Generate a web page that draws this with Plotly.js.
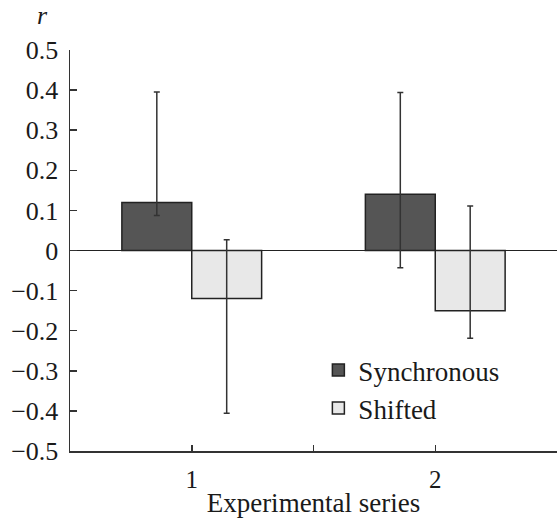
<!DOCTYPE html>
<html>
<head>
<meta charset="utf-8">
<script src="https://cdn.plot.ly/plotly-3.0.1.min.js"></script>
<style>html,body{margin:0;padding:0;background:#fff;}#chart{width:557px;height:518px;}</style>
</head>
<body>
<div id="chart"></div>
<script>
// Data
const categories = ["1", "2"];
const categoryPositions = [1, 2];
const seriesNames = ["Synchronous", "Shifted"];
const synchronousValues = [0.12, 0.14];
const synchronousErrPlus = [0.275, 0.254];
const synchronousErrMinus = [0.033, 0.183];
const shiftedValues = [-0.12, -0.15];
const shiftedErrPlus = [0.147, 0.261];
const shiftedErrMinus = [0.286, 0.069];
const yTickValues = [-0.5, -0.4, -0.3, -0.2, -0.1, 0, 0.1, 0.2, 0.3, 0.4, 0.5];
const yTickLabels = ["\u22120.5", "\u22120.4", "\u22120.3", "\u22120.2", "\u22120.1", "0", "0.1", "0.2", "0.3", "0.4", "0.5"];
const xTickValues = [1, 1.5, 2];
const xTickLabels = ["1", "", "2"];

const font = "Liberation Serif";
const textColor = "#1a1a1a";

const traces = [
  {
    type: "bar", name: seriesNames[0], x: categoryPositions, y: synchronousValues,
    marker: {color: "#555555", line: {color: "#222222", width: 1.5}},
    error_y: {type: "data", symmetric: false, array: synchronousErrPlus, arrayminus: synchronousErrMinus,
      color: "#333333", thickness: 1.5, width: 3}
  },
  {
    type: "bar", name: seriesNames[1], x: categoryPositions, y: shiftedValues,
    marker: {color: "#e8e8e8", line: {color: "#222222", width: 1.5}},
    error_y: {type: "data", symmetric: false, array: shiftedErrPlus, arrayminus: shiftedErrMinus,
      color: "#333333", thickness: 1.5, width: 3}
  }
];

const layout = {
  width: 557, height: 518,
  margin: {l: 70, r: 0, t: 50, b: 67},
  paper_bgcolor: "#ffffff", plot_bgcolor: "#ffffff",
  font: {family: font, size: 25, color: textColor},
  barmode: "group", bargap: 0.426, bargroupgap: 0,
  showlegend: true,
  legend: {x: 0.51, y: 0.262, xanchor: "left", yanchor: "top", bgcolor: "rgba(0,0,0,0)",
    font: {family: font, size: 27, color: textColor}, tracegroupgap: 0},
  xaxis: {
    range: [0.5, 2.5], tickmode: "array", tickvals: xTickValues, ticktext: xTickLabels,
    ticks: "inside", ticklen: 6, tickwidth: 1.5, tickcolor: "#333",
    tickfont: {family: font, size: 25, color: textColor},
    showline: true, linecolor: "#333", linewidth: 1.5, showgrid: false, zeroline: false,
    ticklabelstandoff: 5,
    title: {text: "Experimental series", font: {family: font, size: 27, color: textColor}, standoff: 3}
  },
  yaxis: {
    range: [-0.5, 0.5], tickmode: "array", tickvals: yTickValues, ticktext: yTickLabels,
    ticks: "inside", ticklen: 7, tickwidth: 1.5, tickcolor: "#333",
    tickfont: {family: font, size: 26, color: textColor},
    showline: true, linecolor: "#333", linewidth: 1.5, showgrid: false,
    zeroline: true, zerolinecolor: "#222", zerolinewidth: 1.5,
    ticklabelstandoff: 5
  },
  annotations: [
    {text: "<i>r</i>", xref: "paper", yref: "paper", x: -0.057, y: 1.085, xanchor: "center", yanchor: "middle",
     showarrow: false, font: {family: font, size: 26, color: textColor}}
  ]
};

Plotly.newPlot("chart", traces, layout, {displayModeBar: false, staticPlot: true});
</script>
</body>
</html>
